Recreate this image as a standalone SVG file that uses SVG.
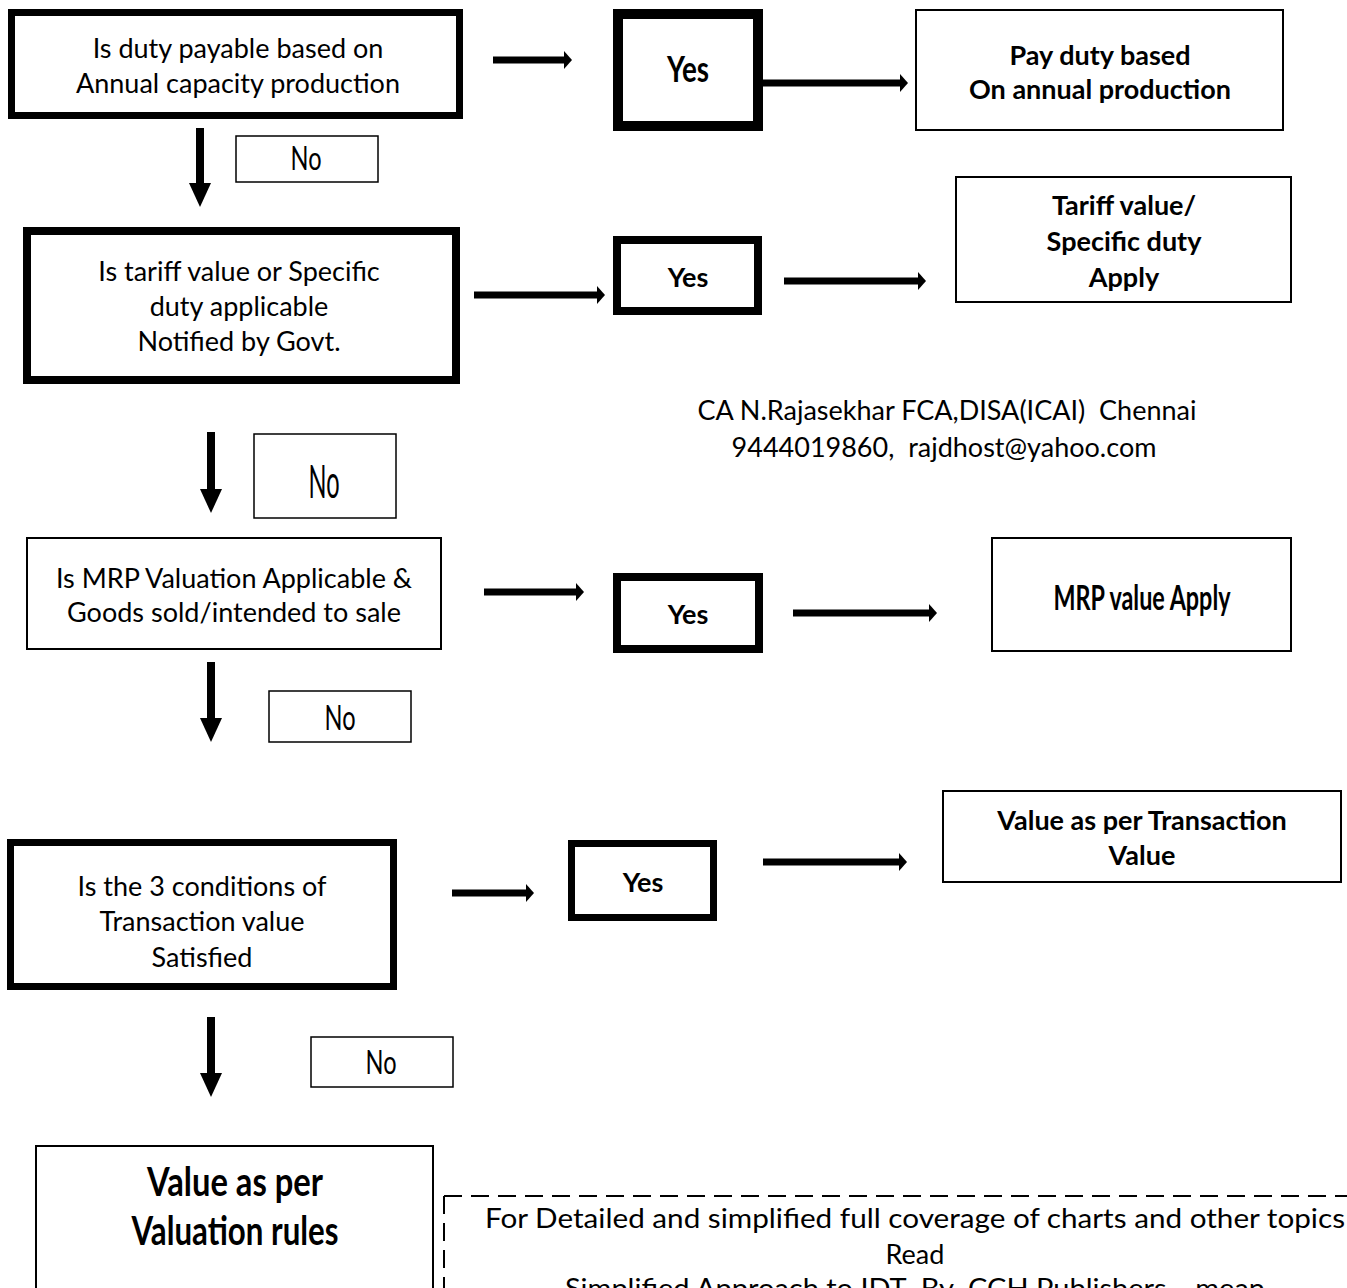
<svg xmlns="http://www.w3.org/2000/svg" width="1347" height="1288" viewBox="0 0 1347 1288">
<style>
.box{fill:#fff;stroke:#000}
.thin{stroke-width:2}
.t{font-family:Lato,"Open Sans","Liberation Sans",sans-serif;font-size:27px;fill:#000;text-anchor:middle}
.b{font-weight:bold}
.n{font-family:Lato,"Liberation Sans",sans-serif;fill:#000;text-anchor:middle}
.c{font-family:Lato,"Liberation Sans",sans-serif;font-weight:bold;fill:#000;text-anchor:middle}
.h{stroke:#000;stroke-width:7;fill:none}
.v{stroke:#000;stroke-width:8;fill:none}
</style>
<defs>
<marker id="ah" viewBox="0 0 8 18" refX="0" refY="9" markerWidth="8" markerHeight="18" markerUnits="userSpaceOnUse" orient="auto"><path d="M0,0 L8,9 L0,18 Z" fill="#000"/></marker>
<marker id="av" viewBox="0 0 24 22" refX="0" refY="11" markerWidth="24" markerHeight="22" markerUnits="userSpaceOnUse" orient="auto"><path d="M0,0 L24,11 L0,22 Z" fill="#000"/></marker>
</defs>
<rect width="1347" height="1288" fill="#fff"/>
<g id="connectors">
<line class="h" x1="493" y1="60" x2="564" y2="60" marker-end="url(#ah)"/>
<line class="h" x1="763" y1="83" x2="900" y2="83" marker-end="url(#ah)"/>
<line class="v" x1="200" y1="128" x2="200" y2="183" marker-end="url(#av)"/>
<line class="h" x1="474" y1="295" x2="597" y2="295" marker-end="url(#ah)"/>
<line class="h" x1="784" y1="281" x2="918" y2="281" marker-end="url(#ah)"/>
<line class="v" x1="211" y1="432" x2="211" y2="489" marker-end="url(#av)"/>
<line class="h" x1="484" y1="592" x2="576" y2="592" marker-end="url(#ah)"/>
<line class="h" x1="793" y1="613" x2="929" y2="613" marker-end="url(#ah)"/>
<line class="v" x1="211" y1="662" x2="211" y2="718" marker-end="url(#av)"/>
<line class="h" x1="452" y1="893" x2="526" y2="893" marker-end="url(#ah)"/>
<line class="h" x1="763" y1="862" x2="899" y2="862" marker-end="url(#ah)"/>
<line class="v" x1="211" y1="1017" x2="211" y2="1073" marker-end="url(#av)"/>
</g>
<g id="q1">
<rect class="box" x="11.5" y="12.5" width="448" height="103" stroke-width="7"/>
<text class="t" x="238" y="58">Is duty payable based on</text>
<text class="t" x="238" y="93">Annual capacity production</text>
</g>
<g id="yes1">
<rect class="box" x="618" y="14" width="140" height="112" stroke-width="10"/>
<text class="c" x="688" y="82" font-size="37" textLength="42" lengthAdjust="spacingAndGlyphs">Yes</text>
</g>
<g id="r1">
<rect class="box thin" x="916" y="10" width="367" height="120"/>
<text class="t b" x="1100" y="65">Pay duty based</text>
<text class="t b" x="1100" y="99">On annual production</text>
</g>
<g id="no1">
<rect class="box" x="236" y="136" width="142" height="46" stroke-width="1.5"/>
<text class="n" x="306" y="170" font-size="32" textLength="31" lengthAdjust="spacingAndGlyphs">No</text>
</g>
<g id="q2">
<rect class="box" x="27" y="231" width="429" height="149" stroke-width="8"/>
<text class="t" x="239" y="281">Is tariff value or Specific</text>
<text class="t" x="239" y="316">duty applicable</text>
<text class="t" x="239" y="351">Notified by Govt.</text>
</g>
<g id="yes2">
<rect class="box" x="617" y="240" width="141" height="71" stroke-width="8"/>
<text class="t b" x="688" y="287">Yes</text>
</g>
<g id="r2">
<rect class="box thin" x="956" y="177" width="335" height="125"/>
<text class="t b" x="1124" y="215">Tariff value/</text>
<text class="t b" x="1124" y="251">Specific duty</text>
<text class="t b" x="1124" y="287">Apply</text>
</g>
<g id="author">
<text class="t" x="947" y="420" font-size="28" xml:space="preserve">CA N.Rajasekhar FCA,DISA(ICAI)  Chennai</text>
<text class="t" x="944" y="457" font-size="28" xml:space="preserve">9444019860,  rajdhost@yahoo.com</text>
</g>
<g id="no2">
<rect class="box" x="254" y="434" width="142" height="84" stroke-width="1.5"/>
<text class="n" x="324" y="498" font-size="46" textLength="31" lengthAdjust="spacingAndGlyphs">No</text>
</g>
<g id="q3">
<rect class="box thin" x="27" y="538" width="414" height="111"/>
<text class="t" x="234" y="588">Is MRP Valuation Applicable &amp;</text>
<text class="t" x="234" y="622">Goods sold/intended to sale</text>
</g>
<g id="yes3">
<rect class="box" x="617" y="577" width="142" height="72" stroke-width="8"/>
<text class="t b" x="688" y="624">Yes</text>
</g>
<g id="r3">
<rect class="box thin" x="992" y="538" width="299" height="113"/>
<text class="c" x="1142" y="610" font-size="35" textLength="177" lengthAdjust="spacingAndGlyphs">MRP value Apply</text>
</g>
<g id="no3">
<rect class="box" x="269" y="691" width="142" height="51" stroke-width="1.5"/>
<text class="n" x="340" y="730" font-size="34" textLength="31" lengthAdjust="spacingAndGlyphs">No</text>
</g>
<g id="q4">
<rect class="box" x="10.5" y="842.5" width="383" height="144" stroke-width="7"/>
<text class="t" x="202" y="896">Is the 3 conditions of</text>
<text class="t" x="202" y="931">Transaction value</text>
<text class="t" x="202" y="967">Satisfied</text>
</g>
<g id="yes4">
<rect class="box" x="571.5" y="843.5" width="142" height="74" stroke-width="7"/>
<text class="t b" x="643" y="892">Yes</text>
</g>
<g id="r4">
<rect class="box thin" x="943" y="791" width="398" height="91"/>
<text class="t b" x="1142" y="830">Value as per Transaction</text>
<text class="t b" x="1142" y="865">Value</text>
</g>
<g id="no4">
<rect class="box" x="311" y="1037" width="142" height="50" stroke-width="1.5"/>
<text class="n" x="381" y="1074" font-size="33" textLength="31" lengthAdjust="spacingAndGlyphs">No</text>
</g>
<g id="r5">
<rect class="box thin" x="36" y="1146" width="397" height="160"/>
<text class="c" x="235" y="1196" font-size="40" textLength="176" lengthAdjust="spacingAndGlyphs">Value as per</text>
<text class="c" x="235" y="1245" font-size="40" textLength="207" lengthAdjust="spacingAndGlyphs">Valuation rules</text>
</g>
<g id="note">
<path d="M444,1196 H1347 M444,1196 V1288" stroke="#000" stroke-width="2" stroke-dasharray="18,9" fill="none"/>
<text class="t" x="915" y="1228" font-size="30" textLength="860" lengthAdjust="spacingAndGlyphs">For Detailed and simplified full coverage of charts and other topics</text>
<text class="t" x="915" y="1264" font-size="30">Read</text>
<text class="t" x="915" y="1298" font-size="30" textLength="700" lengthAdjust="spacingAndGlyphs" xml:space="preserve">Simplified Approach to IDT  By  CCH Publishers ,  mean</text>
</g>
</svg>
